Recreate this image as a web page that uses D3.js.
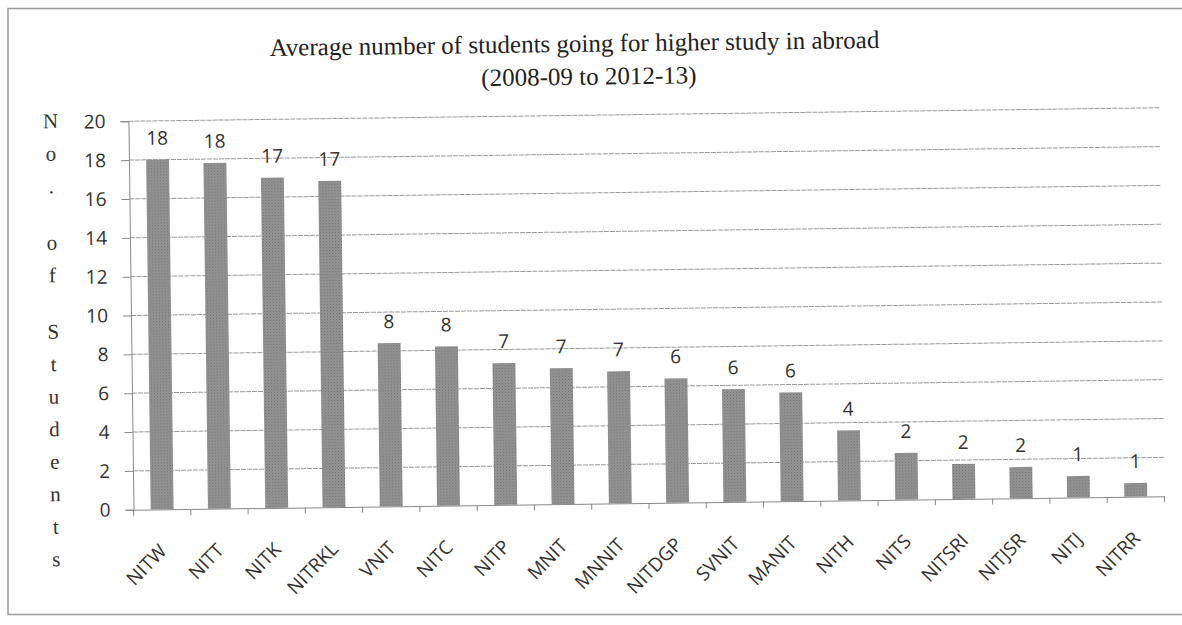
<!DOCTYPE html>
<html><head><meta charset="utf-8">
<script src="https://cdn.jsdelivr.net/npm/d3@7"></script>
<style>body{margin:0;background:#fff}svg{display:block}</style>
</head><body>
<svg id="chart" width="1182" height="625"></svg>
<script>
const categories = ["NITW","NITT","NITK","NITRKL","VNIT","NITC","NITP","MNIT","MNNIT","NITDGP","SVNIT","MANIT","NITH","NITS","NITSRI","NITJSR","NITJ","NITRR"];
const values = [18.0,17.8,17.0,16.8,8.4,8.2,7.3,7.0,6.8,6.4,5.8,5.6,3.6,2.4,1.8,1.6,1.1,0.7];
const yTicks = [0,2,4,6,8,10,12,14,16,18,20];
const titleLines = ["Average number of students going for higher study in abroad","(2008-09 to 2012-13)"];
const yTitle = "No. of Students";

const svg = d3.select("#chart");
const defs = svg.append("defs");
const pat = defs.append("pattern").attr("id","tex").attr("width",3).attr("height",3).attr("patternUnits","userSpaceOnUse");
pat.append("rect").attr("width",3).attr("height",3).attr("fill","#969696");
pat.append("rect").attr("x",0).attr("y",0).attr("width",1).attr("height",1).attr("fill","#6a6a6a");
pat.append("rect").attr("x",1.5).attr("y",1.5).attr("width",1).attr("height",1).attr("fill","#767676");

// border
svg.append("rect").attr("x",8).attr("y",8.5).attr("width",1200).attr("height",606)
  .attr("fill","none").attr("stroke","#9a9a9a").attr("stroke-width",1.5);

const g = svg.append("g").attr("transform","rotate(-0.75,645,315)");

const x = d3.scaleBand().domain(categories).range([131,1162]).paddingInner(0.6).paddingOuter(0.3);
const y = d3.scaleLinear().domain([0,20]).range([503,114.5]);

// gridlines
g.append("g").selectAll("line").data(yTicks.slice(1)).join("line")
  .attr("x1",131).attr("x2",1162).attr("y1",d=>y(d)).attr("y2",d=>y(d))
  .attr("stroke","#999").attr("stroke-width",1).attr("stroke-dasharray","5,1");

// y axis
const yAxis = g.append("g").attr("transform","translate(131,0)")
  .call(d3.axisLeft(y).tickValues(yTicks).tickSize(8).tickPadding(15));
yAxis.select(".domain").attr("stroke","#888");
yAxis.selectAll(".tick line").attr("stroke","#888");
yAxis.selectAll("text").attr("font-family","'Open Sans', sans-serif").attr("font-size",19).attr("fill","#333");

// bars
g.append("g").selectAll("rect").data(values).join("rect")
  .attr("x",(d,i)=>x(categories[i])).attr("width",x.bandwidth())
  .attr("y",d=>y(d)).attr("height",d=>y(0)-y(d))
  .attr("fill","url(#tex)");

// data labels
g.append("g").selectAll("text").data(values).join("text")
  .attr("x",(d,i)=>x(categories[i])+x.bandwidth()/2).attr("y",d=>y(d)-15)
  .attr("text-anchor","middle").attr("font-family","'Open Sans', sans-serif").attr("font-size",19).attr("fill","#333")
  .text(d=>Math.round(d));

// x axis
const xAxis = g.append("g").attr("transform",`translate(0,${y(0)})`)
  .call(d3.axisBottom(x).tickSize(0).tickFormat(""));
xAxis.select(".domain").attr("stroke","#888");
const step = x.step();
g.append("g").selectAll("line").data(d3.range(categories.length+1)).join("line")
  .attr("x1",i=>131+i*step).attr("x2",i=>131+i*step).attr("y1",y(0)).attr("y2",y(0)+6)
  .attr("stroke","#888");

g.append("g").selectAll("text").data(categories).join("text")
  .attr("transform",d=>`translate(${x(d)+x.bandwidth()/2+5},${y(0)+43}) rotate(-45)`)
  .attr("text-anchor","end").attr("font-family","'Open Sans', sans-serif").attr("font-size",19).attr("fill","#333")
  .text(d=>d);

// title
g.append("g").selectAll("text").data(titleLines).join("text")
  .attr("x",(d,i)=>i===0?578:592).attr("y",(d,i)=>51+i*33).attr("text-anchor","middle")
  .attr("font-family","'Liberation Serif', serif").attr("font-size",25).attr("fill","#222")
  .text(d=>d);

// vertical y title (stacked letters)
let yy = 120.5;
const letters = [];
for (const ch of yTitle) {
  if (ch === " ") { yy += 24; continue; }
  letters.push({ch, y: yy});
  yy += 32.5;
}
g.append("g").selectAll("text").data(letters).join("text")
  .attr("x",53).attr("y",d=>d.y).attr("text-anchor","middle")
  .attr("font-family","'Liberation Serif', serif").attr("font-size",21).attr("fill","#333")
  .text(d=>d.ch);
</script>
</body></html>
